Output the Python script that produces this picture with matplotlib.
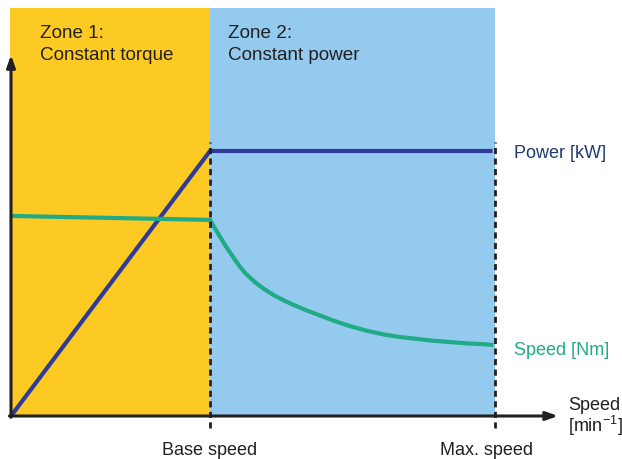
import matplotlib
matplotlib.use("Agg")
import matplotlib.pyplot as plt
from matplotlib.patches import Rectangle

plt.rcParams['font.family'] = ['Liberation Sans', 'DejaVu Sans']

# Data (speed relative to base speed, values relative to rated power)
base_speed = 1.0
max_speed = 2.43
power_x = [0.0, 1.0, 2.42]
power_y = [0.0, 1.0, 1.0]
torque_x = [0.0, 1.0, 1.025, 1.050, 1.075, 1.101, 1.126, 1.151, 1.176, 1.226, 1.276,
            1.327, 1.377, 1.427, 1.477, 1.536, 1.620, 1.704, 1.787, 1.871, 1.955,
            2.039, 2.122, 2.206, 2.290, 2.373, 2.424]
torque_y = [0.755, 0.740, 0.708, 0.677, 0.646, 0.617, 0.589, 0.563, 0.540, 0.505, 0.477,
            0.453, 0.434, 0.417, 0.401, 0.384, 0.360, 0.339, 0.322, 0.308, 0.298,
            0.291, 0.284, 0.279, 0.274, 0.271, 0.268]
zone_labels = [("Zone 1:", "Constant torque"), ("Zone 2:", "Constant power")]
tick_labels = ["Base speed", "Max. speed"]

YELLOW = "#FCCA22"
BLUE = "#93CAEE"
NAVY = "#2F3B97"
GREEN = "#20AB86"
DARK = "#231F20"

fig = plt.figure(figsize=(6.22, 4.59), dpi=100)
ax = fig.add_axes([0, 0, 1, 1])
ax.set_xlim(-11 / 199, (622 - 11) / 199)
ax.set_ylim((416 - 459) / 265, 416 / 265)
ax.axis('off')

top = 1.54
ax.add_patch(Rectangle((-0.005, 0), base_speed + 0.005, top, color=YELLOW, zorder=0, lw=0))
ax.add_patch(Rectangle((base_speed, 0), max_speed - base_speed, top, color=BLUE, zorder=0, lw=0))

# lines
ax.plot(power_x, power_y, color=NAVY, lw=3.0, solid_capstyle='butt', solid_joinstyle='miter', zorder=3)
ax.plot(torque_x, torque_y, color=GREEN, lw=3.0, solid_capstyle='butt', solid_joinstyle='round', zorder=3)

# dashed lines
for xv in (base_speed, max_speed):
    ax.plot([xv, xv], [-0.045, 1.034], color=DARK, lw=2.0, ls=(0, (2.2, 1.6)), zorder=4)

# axes arrows
ax.annotate("", xy=(0, 1.362), xytext=(0, -0.005),
            arrowprops=dict(arrowstyle='-|>,head_length=0.7,head_width=0.25', color=DARK, lw=2.2, shrinkA=0, shrinkB=0), zorder=5)
ax.annotate("", xy=(2.749, 0), xytext=(-0.008, 0),
            arrowprops=dict(arrowstyle='-|>,head_length=0.7,head_width=0.25', color=DARK, lw=2.2, shrinkA=0, shrinkB=0), zorder=5)

# zone labels
for xpos, (l1, l2) in zip([0.146, 1.09], zone_labels):
    ax.text(xpos, 1.426, l1, fontsize=13.6, color=DARK, va='baseline', ha='left')
    ax.text(xpos, 1.343, l2, fontsize=13.6, color=DARK, va='baseline', ha='left')

ax.text(2.528, 0.974, "Power [kW]", fontsize=13, color="#1F3A6E", va='baseline', ha='left')
ax.text(2.528, 0.230, "Speed [Nm]", fontsize=13, color=GREEN, va='baseline', ha='left')
ax.text(2.80, 0.0226, "Speed", fontsize=13, color=DARK, va='baseline', ha='left')
ax.text(2.80, -0.060, "[min$^{\\mathregular{-1}}$]", fontsize=13, color=DARK, va='baseline', ha='left')

for xv, lab in zip([base_speed, 2.387], tick_labels):
    ax.text(xv, -0.147, lab, fontsize=13, color=DARK, va='baseline', ha='center')

fig.savefig("out.png", dpi=100)
